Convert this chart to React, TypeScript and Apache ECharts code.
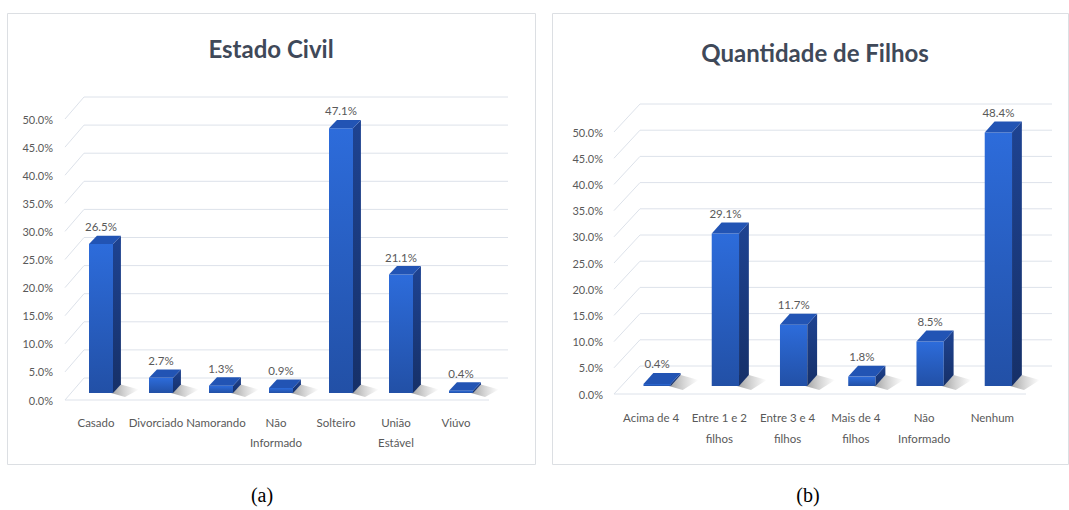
import React, { useEffect, useRef } from "react";
import * as echarts from "echarts";

const civilCategories = ["Casado", "Divorciado", "Namorando", "Não\nInformado", "Solteiro", "União\nEstável", "Viúvo"];
const civilValues = [26.5, 2.7, 1.3, 0.9, 47.1, 21.1, 0.4];

const filhosCategories = ["Acima de 4", "Entre 1 e 2\nfilhos", "Entre 3 e 4\nfilhos", "Mais de 4\nfilhos", "Não\nInformado", "Nenhum"];
const filhosValues = [0.4, 29.1, 11.7, 1.8, 8.5, 48.4];

const yTicks = [0, 5, 10, 15, 20, 25, 30, 35, 40, 45, 50];

const titles = ["Estado Civil", "Quantidade de Filhos"];
const captions = ["(a)", "(b)"];

const FONT = "Lato, 'Noto Sans', sans-serif";
const LABEL_COLOR = "#595959";
const GRID_COLOR = "#dde2ea";

type BarCfg = { shift: number; base: number; dxr: number; dyr: number };

function makeBarRenderer(cfg: BarCfg) {
  return (params: any, api: any) => {
    const i = api.value(0);
    const v = api.value(1);
    const top = api.coord([i, v]);
    const bot = api.coord([i, 0]);
    const band = api.size([1, 0])[0];
    const w = band * 0.4;
    const cx = top[0] + cfg.shift;
    const x1 = cx - w / 2;
    const x2 = cx + w / 2;
    const yt = top[1] - cfg.base;
    const yb = bot[1] - cfg.base;
    const dx = w * cfg.dxr;
    const dy = w * cfg.dyr;
    return {
      type: "group",
      children: [
        {
          type: "polygon",
          shape: { points: [[x2 - 2, yb], [x2 + dx, yb - dy], [x2 + dx + 18, yb - dy + 5], [x2 + 12, yb + 4]] },
          style: {
            fill: new echarts.graphic.LinearGradient(0, 0, 1, 0, [
              { offset: 0, color: "rgba(60,60,60,0.5)" },
              { offset: 0.5, color: "rgba(90,90,90,0.25)" },
              { offset: 1, color: "rgba(90,90,90,0)" },
            ]),
          },
        },
        {
          type: "rect",
          shape: { x: x1, y: yt, width: w, height: Math.max(yb - yt, 0.5) },
          style: {
            fill: new echarts.graphic.LinearGradient(0, 0, 0, 1, [
              { offset: 0, color: "#2d6cdb" },
              { offset: 1, color: "#2250a6" },
            ]),
          },
        },
        {
          type: "polygon",
          shape: { points: [[x2, yt], [x2 + dx, yt - dy], [x2 + dx, yb - dy], [x2, yb]] },
          style: {
            fill: new echarts.graphic.LinearGradient(0, 0, 0, 1, [
              { offset: 0, color: "#1e4392" },
              { offset: 1, color: "#163068" },
            ]),
          },
        },
        {
          type: "polygon",
          shape: { points: [[x1, yt], [x1 + dx, yt - dy], [x2 + dx, yt - dy], [x2, yt]] },
          style: { fill: "#2254b4" },
        },
        {
          type: "text",
          x: cx,
          y: yt - dy - 9,
          style: {
            text: v.toFixed(1) + "%",
            align: "center",
            verticalAlign: "middle",
            fontSize: 11.5,
            fontFamily: FONT,
            fill: LABEL_COLOR,
          },
        },
      ],
    };
  };
}

type GridCfg = { flo: number; gdx: number; gdy: number; bro: number };

function makeGridRenderer(cfg: GridCfg) {
  return (params: any, api: any) => {
    const v = api.value(1);
    const cs = params.coordSys;
    const yL = api.coord([0, v])[1];
    const fx = cs.x + cfg.flo;
    const bx = fx + cfg.gdx;
    const brx = cs.x + cs.width + cfg.bro;
    const yB = yL - cfg.gdy;
    const children: any[] = [
      {
        type: "polyline",
        shape: { points: [[fx, yL], [bx, yB], [brx, yB]] },
        style: { stroke: GRID_COLOR, lineWidth: 1, fill: "none" },
      },
    ];
    if (v === 0) {
      children.push({
        type: "line",
        shape: { x1: fx, y1: yL, x2: brx - cfg.gdx, y2: yL },
        style: { stroke: GRID_COLOR, lineWidth: 1 },
      });
    }
    return { type: "group", children };
  };
}

export default function App() {
  const ref = useRef<HTMLDivElement>(null);

  useEffect(() => {
    if (!ref.current) return;
    const chart = echarts.init(ref.current, null, { renderer: "svg" });

    const yAxisBase = (margin: number) => ({
      type: "value",
      min: 0,
      max: 50,
      interval: 5,
      axisLine: { show: false },
      axisTick: { show: false },
      splitLine: { show: false },
      axisLabel: {
        margin,
        color: LABEL_COLOR,
        fontSize: 11,
        fontFamily: FONT,
        formatter: (val: number) => val.toFixed(1) + "%",
      },
    });

    const xAxisBase = (data: string[], margin: number, lineHeight: number) => ({
      type: "category",
      data,
      axisLine: { show: false },
      axisTick: { show: false },
      splitLine: { show: false },
      axisLabel: {
        interval: 0,
        margin,
        lineHeight,
        color: LABEL_COLOR,
        fontSize: 11.5,
        fontFamily: FONT,
      },
    });

    chart.setOption({
      animation: false,
      backgroundColor: "#ffffff",
      grid: [
        { left: 66, width: 420, top: 119, height: 281 },
        { left: 617, width: 409.5, top: 132, height: 262 },
      ],
      xAxis: [
        { ...xAxisBase(civilCategories, 12, 20), gridIndex: 0 },
        { ...xAxisBase(filhosCategories, 13, 21), gridIndex: 1 },
      ],
      yAxis: [
        { ...yAxisBase(13), gridIndex: 0 },
        { ...yAxisBase(14), gridIndex: 1 },
      ],
      graphic: [
        {
          type: "rect",
          silent: true,
          shape: { x: 7.5, y: 13.5, width: 528, height: 451 },
          style: { fill: "none", stroke: "#dcdfe3", lineWidth: 1 },
        },
        {
          type: "rect",
          silent: true,
          shape: { x: 552.5, y: 13.5, width: 516, height: 451 },
          style: { fill: "none", stroke: "#dcdfe3", lineWidth: 1 },
        },
        {
          type: "text",
          x: 271,
          y: 48,
          style: {
            text: titles[0],
            align: "center",
            verticalAlign: "middle",
            fontSize: 24,
            fontWeight: "bold",
            fontFamily: FONT,
            fill: "#3f4959",
          },
        },
        {
          type: "text",
          x: 815,
          y: 52,
          style: {
            text: titles[1],
            align: "center",
            verticalAlign: "middle",
            fontSize: 24,
            fontWeight: "bold",
            fontFamily: FONT,
            fill: "#3f4959",
          },
        },
        {
          type: "text",
          x: 262,
          y: 495,
          style: {
            text: captions[0],
            align: "center",
            verticalAlign: "middle",
            fontSize: 20,
            fontFamily: "'Liberation Serif', 'DejaVu Serif', serif",
            fill: "#000000",
          },
        },
        {
          type: "text",
          x: 808,
          y: 495,
          style: {
            text: captions[1],
            align: "center",
            verticalAlign: "middle",
            fontSize: 20,
            fontFamily: "'Liberation Serif', 'DejaVu Serif', serif",
            fill: "#000000",
          },
        },
      ],
      series: [
        {
          type: "custom",
          xAxisIndex: 0,
          yAxisIndex: 0,
          silent: true,
          z: 1,
          renderItem: makeGridRenderer({ flo: -1, gdx: 19, gdy: 22, bro: 22 }),
          data: yTicks.map((v) => [0, v]),
        },
        {
          type: "custom",
          xAxisIndex: 1,
          yAxisIndex: 1,
          silent: true,
          z: 1,
          renderItem: makeGridRenderer({ flo: -3, gdx: 26, gdy: 28, bro: 25.5 }),
          data: yTicks.map((v) => [0, v]),
        },
        {
          type: "custom",
          xAxisIndex: 0,
          yAxisIndex: 0,
          silent: true,
          z: 2,
          renderItem: makeBarRenderer({ shift: 5, base: 7, dxr: 0.33, dyr: 0.35 }),
          data: civilValues.map((v, i) => [i, v]),
        },
        {
          type: "custom",
          xAxisIndex: 1,
          yAxisIndex: 1,
          silent: true,
          z: 2,
          renderItem: makeBarRenderer({ shift: 6, base: 8, dxr: 0.36, dyr: 0.4 }),
          data: filhosValues.map((v, i) => [i, v]),
        },
      ],
    });

    return () => chart.dispose();
  }, []);

  return (
    <div
      ref={ref}
      style={{ position: "absolute", left: 0, top: 0, width: 1069, height: 510, background: "#fff" }}
    />
  );
}
